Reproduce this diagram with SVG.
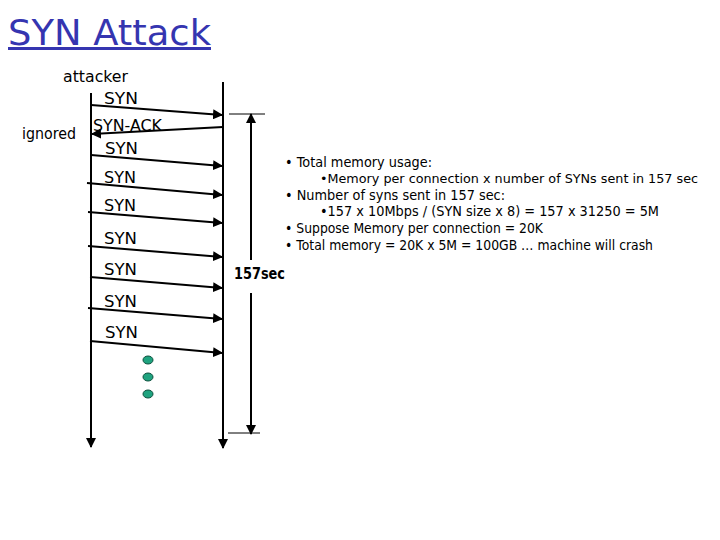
<svg xmlns="http://www.w3.org/2000/svg" width="720" height="540" viewBox="0 0 720 540">
<style>
.ln{stroke:#000;stroke-width:2;fill:none}
.thin{stroke:#000;stroke-width:1;fill:none}
.lbl{font-family:"DejaVu Sans","Liberation Sans",sans-serif;font-size:15px;fill:#000}
.note{font-family:"DejaVu Sans","Liberation Sans",sans-serif;font-size:14px;fill:#000}
.note.sm{font-size:12.5px}
.dot{fill:#1fa37f;stroke:#0b4f3c;stroke-width:1}
</style>
<defs>
<marker id="ah" viewBox="0 0 10 10" refX="9" refY="5" markerWidth="5" markerHeight="5" orient="auto" markerUnits="strokeWidth">
<path d="M0,0 L10,5 L0,10 z" fill="#000"/>
</marker>
</defs>
<rect width="720" height="540" fill="#fff"/>
<g id="title">
<text x="8" y="45" font-family="'Comic Sans MS','DejaVu Sans','Liberation Sans',sans-serif" font-size="35" fill="#3535b0" textLength="203" lengthAdjust="spacingAndGlyphs">SYN Attack</text>
<rect x="8" y="47" width="203" height="3" fill="#3535b0"/>
</g>
<g id="attacker">
<text class="lbl" x="63" y="82" textLength="65" lengthAdjust="spacingAndGlyphs">attacker</text>
</g>
<g id="ignored">
<text class="lbl" x="22" y="139" textLength="54" lengthAdjust="spacingAndGlyphs">ignored</text>
</g>
<g id="connectors">
<line class="ln" x1="91" y1="93" x2="91" y2="447" marker-end="url(#ah)"/>
<line class="ln" x1="223" y1="82" x2="223" y2="448" marker-end="url(#ah)"/>
<line class="ln" x1="251" y1="260" x2="251" y2="114" marker-end="url(#ah)"/>
<line class="ln" x1="251" y1="293" x2="251" y2="434" marker-end="url(#ah)"/>
<line class="thin" x1="229" y1="114" x2="265" y2="114"/>
<line class="thin" x1="228" y1="433" x2="260" y2="433"/>
<line class="ln" x1="91" y1="105" x2="222" y2="115" marker-end="url(#ah)"/>
<line class="ln" x1="223" y1="127" x2="92" y2="134" marker-end="url(#ah)"/>
<line class="ln" x1="91" y1="155" x2="222" y2="166" marker-end="url(#ah)"/>
<line class="ln" x1="87" y1="183" x2="222" y2="195" marker-end="url(#ah)"/>
<line class="ln" x1="88" y1="212" x2="222" y2="223" marker-end="url(#ah)"/>
<line class="ln" x1="88" y1="246" x2="222" y2="257" marker-end="url(#ah)"/>
<line class="ln" x1="90" y1="277" x2="222" y2="288" marker-end="url(#ah)"/>
<line class="ln" x1="88" y1="308" x2="222" y2="319" marker-end="url(#ah)"/>
<line class="ln" x1="90" y1="341" x2="222" y2="353" marker-end="url(#ah)"/>
</g>
<g id="msg-labels">
<text class="lbl" x="104" y="104" textLength="34" lengthAdjust="spacingAndGlyphs">SYN</text>
<text class="lbl" x="93" y="131" textLength="69" lengthAdjust="spacingAndGlyphs">SYN-ACK</text>
<text class="lbl" x="105" y="154" textLength="33" lengthAdjust="spacingAndGlyphs">SYN</text>
<text class="lbl" x="104" y="183" textLength="32" lengthAdjust="spacingAndGlyphs">SYN</text>
<text class="lbl" x="104" y="211" textLength="32" lengthAdjust="spacingAndGlyphs">SYN</text>
<text class="lbl" x="104" y="244" textLength="33" lengthAdjust="spacingAndGlyphs">SYN</text>
<text class="lbl" x="104" y="275" textLength="33" lengthAdjust="spacingAndGlyphs">SYN</text>
<text class="lbl" x="104" y="307" textLength="33" lengthAdjust="spacingAndGlyphs">SYN</text>
<text class="lbl" x="105" y="338" textLength="33" lengthAdjust="spacingAndGlyphs">SYN</text>
</g>
<g id="dots">
<ellipse class="dot" cx="148" cy="360" rx="5" ry="4"/>
<ellipse class="dot" cx="148" cy="377" rx="5" ry="4"/>
<ellipse class="dot" cx="148" cy="394" rx="5" ry="4"/>
</g>
<g id="duration">
<text x="234" y="279" font-family="'DejaVu Sans','Liberation Sans',sans-serif" font-size="15" font-weight="bold" fill="#000" textLength="51" lengthAdjust="spacingAndGlyphs">157sec</text>
</g>
<g id="notes">
<text class="note" x="285" y="167" textLength="147" lengthAdjust="spacingAndGlyphs">• Total memory usage:</text>
<text class="note sm" x="320" y="183" textLength="378" lengthAdjust="spacingAndGlyphs">•Memory per connection x number of SYNs sent in 157 sec</text>
<text class="note" x="285" y="200" textLength="220" lengthAdjust="spacingAndGlyphs">• Number of syns sent in 157 sec:</text>
<text class="note" x="320" y="216" textLength="339" lengthAdjust="spacingAndGlyphs">•157 x 10Mbps / (SYN size x 8) = 157 x 31250 = 5M</text>
<text class="note" x="285" y="233" textLength="258" lengthAdjust="spacingAndGlyphs">• Suppose Memory per connection = 20K</text>
<text class="note" x="285" y="250" textLength="368" lengthAdjust="spacingAndGlyphs">• Total memory = 20K x 5M = 100GB … machine will crash</text>
</g>
</svg>
